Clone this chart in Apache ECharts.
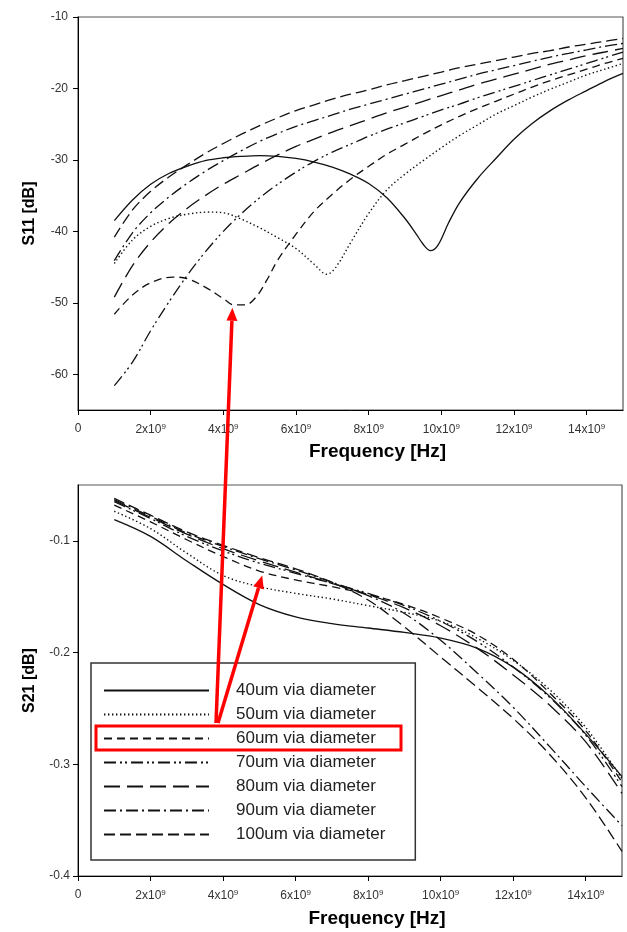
<!DOCTYPE html>
<html>
<head>
<meta charset="utf-8">
<script src="https://cdn.jsdelivr.net/npm/echarts@6/dist/echarts.min.js"></script>
<style>
  body { margin: 0; background: #fff; }
  #chart { width: 627px; height: 932px; }
</style>
</head>
<body>
<div id="chart"></div>
<script>
// frequencies in GHz (plotted as Hz)
var s11Freq = [1, 1.5, 2, 2.5, 3, 3.5, 4, 4.5, 5, 5.5, 6, 6.5, 7, 7.5, 8, 8.5, 9, 9.5, 10, 10.5, 11, 11.5, 12, 12.5, 13, 13.5, 14, 14.5, 15];
var s11Freq40 = [1, 1.5, 2, 2.5, 3, 3.5, 4, 4.5, 5, 5.5, 6, 6.5, 7, 7.5, 8, 8.5, 9, 9.3, 9.5, 9.7, 9.9, 10.2, 10.5, 11, 11.5, 12, 12.5, 13, 13.5, 14, 14.5, 15];
var s11Freq50 = [1, 1.5, 2, 2.5, 3, 3.6, 4, 4.5, 5, 5.5, 6, 6.5, 6.85, 7.1, 7.5, 8, 8.5, 9, 9.5, 10, 10.5, 11, 11.5, 12, 12.5, 13, 13.5, 14, 14.5, 15];
var s11Freq60 = [1, 1.5, 2, 2.6, 3, 3.5, 4, 4.3, 4.6, 4.9, 5.2, 5.5, 6, 6.5, 7, 7.5, 8, 8.5, 9, 9.5, 10, 10.5, 11, 11.5, 12, 12.5, 13, 13.5, 14, 14.5, 15];

var s11Via40 = [-38.5, -35.6, -33.4, -31.9, -30.9, -30.1, -29.7, -29.5, -29.4, -29.5, -29.8, -30.3, -31.0, -32.0, -33.3, -35.3, -38.2, -40.3, -41.8, -42.7, -42.0, -38.8, -36.0, -32.6, -29.8, -27.1, -24.9, -23.1, -21.6, -20.3, -19.0, -17.9];
var s11Via50 = [-44.5, -41.2, -39.3, -38.2, -37.6, -37.3, -37.4, -38.3, -39.5, -40.9, -42.4, -44.6, -46.0, -45.0, -41.6, -37.5, -34.2, -32.0, -30.1, -28.3, -26.6, -25.1, -23.6, -22.4, -21.2, -20.1, -19.1, -18.1, -17.3, -16.5];
var s11Via60 = [-51.6, -48.9, -47.2, -46.4, -46.6, -47.8, -49.4, -50.3, -50.3, -49.2, -46.8, -44.0, -40.4, -37.2, -34.8, -32.7, -30.9, -29.2, -27.8, -26.4, -25.1, -23.9, -22.8, -21.8, -20.8, -19.8, -18.9, -18.1, -17.3, -16.5, -15.8];
var s11Via70 = [-61.6, -58.3, -53.9, -49.9, -46.2, -42.9, -40.0, -37.5, -35.3, -33.4, -31.7, -30.2, -28.9, -27.8, -26.7, -25.7, -24.8, -23.9, -23.0, -22.2, -21.3, -20.5, -19.7, -18.9, -18.1, -17.3, -16.5, -15.7, -14.9];
var s11Via80 = [-49.2, -44.8, -41.5, -38.9, -36.8, -35.0, -33.4, -32.0, -30.6, -29.3, -28.1, -27.1, -26.1, -25.2, -24.3, -23.4, -22.6, -21.8, -21.0, -20.2, -19.4, -18.7, -18.0, -17.3, -16.6, -16.0, -15.4, -14.9, -14.4];
var s11Via90 = [-44.1, -40.2, -37.4, -35.2, -33.3, -31.6, -30.1, -28.7, -27.4, -26.3, -25.3, -24.5, -23.7, -22.9, -22.2, -21.5, -20.8, -20.1, -19.4, -18.7, -18.0, -17.4, -16.8, -16.2, -15.6, -15.1, -14.6, -14.1, -13.7];
var s11Via100 = [-40.8, -37.0, -34.4, -32.4, -30.7, -29.1, -27.7, -26.4, -25.2, -24.1, -23.1, -22.3, -21.5, -20.8, -20.2, -19.5, -18.9, -18.3, -17.7, -17.1, -16.6, -16.1, -15.6, -15.1, -14.7, -14.2, -13.8, -13.4, -13.0];

var s21Freq = [1, 2, 3, 4, 5, 6, 7, 8, 9, 10, 11, 12, 13, 14, 15];
var s21Via40 = [-0.081, -0.096, -0.118, -0.139, -0.157, -0.168, -0.174, -0.178, -0.182, -0.187, -0.196, -0.213, -0.239, -0.273, -0.311];
var s21Via50 = [-0.0735, -0.089, -0.111, -0.131, -0.141, -0.147, -0.152, -0.158, -0.164, -0.172, -0.187, -0.207, -0.233, -0.267, -0.313];
var s21Via60 = [-0.068, -0.083, -0.099, -0.114, -0.127, -0.135, -0.141, -0.148, -0.157, -0.169, -0.184, -0.206, -0.236, -0.27, -0.316];
var s21Via70 = [-0.065, -0.08, -0.096, -0.109, -0.12, -0.129, -0.138, -0.147, -0.158, -0.172, -0.19, -0.213, -0.24, -0.274, -0.32];
var s21Via80 = [-0.064, -0.079, -0.094, -0.107, -0.118, -0.128, -0.138, -0.148, -0.16, -0.176, -0.196, -0.22, -0.247, -0.28, -0.326];
var s21Via90 = [-0.063, -0.078, -0.093, -0.105, -0.116, -0.126, -0.137, -0.149, -0.165, -0.189, -0.218, -0.249, -0.284, -0.32, -0.355];
var s21Via100 = [-0.062, -0.077, -0.092, -0.104, -0.115, -0.125, -0.137, -0.153, -0.177, -0.204, -0.231, -0.259, -0.291, -0.33, -0.378];

var seriesNames = ["40um via diameter", "50um via diameter", "60um via diameter", "70um via diameter", "80um via diameter", "90um via diameter", "100um via diameter"];
var freqTicks = [0, 2, 4, 6, 8, 10, 12, 14];
var s11Ticks = [-60, -50, -40, -30, -20, -10];
var s21Ticks = [-0.4, -0.3, -0.2, -0.1];

// line dash per diameter
var dashes = ["solid", [1.4, 2.6], [8, 5], [12, 4, 2, 3, 2, 4], [16, 7], [12, 4, 2, 4], [11, 5]];

var font = "Liberation Sans, Arial, sans-serif";
var chart = echarts.init(document.getElementById("chart"));

function pairs(f, v) {
  return f.map(function(x, i) { return [x * 1e9, v[i]]; });
}

function freqLabel(v) {
  if (v === 0) return "0";
  return "{b|" + Math.round(v / 1e9) + "x10}{s|9}";
}

function makeLine(i, xi, f, v) {
  return {
    name: seriesNames[i],
    type: "line",
    xAxisIndex: xi,
    yAxisIndex: xi,
    data: pairs(f, v),
    smooth: 0.35,
    symbol: "none",
    silent: true,
    color: "#111",
    lineStyle: { color: "#111", width: i === 1 ? 1.4 : 1.3, type: dashes[i] }
  };
}

var s11Data = [
  [s11Freq40, s11Via40], [s11Freq50, s11Via50], [s11Freq60, s11Via60],
  [s11Freq, s11Via70], [s11Freq, s11Via80], [s11Freq, s11Via90], [s11Freq, s11Via100]
];
var s21Data = [s21Via40, s21Via50, s21Via60, s21Via70, s21Via80, s21Via90, s21Via100];

var series = [];
s11Data.forEach(function(d, i) { series.push(makeLine(i, 0, d[0], d[1])); });
s21Data.forEach(function(d, i) { series.push(makeLine(i, 1, s21Freq, d)); });

function xAxisOf(gi) {
  return {
    type: "value",
    gridIndex: gi,
    min: 0,
    max: 15e9,
    name: "Frequency [Hz]",
    nameLocation: "middle",
    nameGap: gi === 0 ? 32 : 33,
    nameTextStyle: { fontFamily: font, fontSize: 19, fontWeight: "bold", color: "#000", padding: [0, 0, 0, 54] },
    axisLine: { lineStyle: { color: "#000", width: 1 } },
    axisTick: { length: 5, lineStyle: { color: "#000" }, customValues: freqTicks.map(function(t) { return t * 1e9; }) },
    axisLabel: {
      margin: 13,
      color: "#333",
      fontFamily: font,
      fontSize: 12,
      customValues: freqTicks.map(function(t) { return t * 1e9; }),
      formatter: freqLabel,
      rich: {
        b: { fontFamily: font, fontSize: 12, color: "#333", lineHeight: 14 },
        s: { fontFamily: font, fontSize: 8, color: "#333", verticalAlign: "top", lineHeight: 9 }
      }
    },
    splitLine: { show: false }
  };
}

var option = {
  backgroundColor: "#fff",
  animation: false,
  grid: [
    { left: 78, right: 4, top: 17, bottom: 522, show: true, borderColor: "#555", borderWidth: 1.2 },
    { left: 78, right: 5, top: 485, bottom: 56, show: true, borderColor: "#555", borderWidth: 1.2 }
  ],
  legend: {
    orient: "vertical",
    left: 91,
    top: 663,
    padding: [19, 30, 17, 12],
    itemWidth: 105,
    itemHeight: 14,
    itemGap: 7,
    borderColor: "#333",
    borderWidth: 1.5,
    selectedMode: false,
    itemStyle: { color: "rgba(0,0,0,0)", borderWidth: 0, opacity: 0 },
    textStyle: { fontFamily: font, fontSize: 17, lineHeight: 16, color: "#222", padding: [0, 0, 0, 22] },
    data: seriesNames
  },
  xAxis: [xAxisOf(0), xAxisOf(1)],
  yAxis: [
    {
      type: "value",
      gridIndex: 0,
      min: -65,
      max: -10,
      name: "S11 [dB]",
      nameLocation: "middle",
      nameGap: 40,
      nameTextStyle: { fontFamily: font, fontSize: 16, fontWeight: "bold", color: "#000" },
      axisLine: { show: true, lineStyle: { color: "#000" } },
      axisTick: { show: true, length: 5, lineStyle: { color: "#000" }, customValues: s11Ticks },
      axisLabel: { margin: 10, color: "#333", fontFamily: font, fontSize: 12, customValues: s11Ticks },
      splitLine: { show: false }
    },
    {
      type: "value",
      gridIndex: 1,
      min: -0.4,
      max: -0.05,
      name: "S21 [dB]",
      nameLocation: "middle",
      nameGap: 40,
      nameTextStyle: { fontFamily: font, fontSize: 16, fontWeight: "bold", color: "#000" },
      axisLine: { show: true, lineStyle: { color: "#000" } },
      axisTick: { show: true, length: 5, lineStyle: { color: "#000" }, customValues: s21Ticks },
      axisLabel: { margin: 8, color: "#333", fontFamily: font, fontSize: 12, customValues: s21Ticks },
      splitLine: { show: false }
    }
  ],
  series: series
};

chart.setOption(option);

// red annotation: box round the 60um legend entry and two arrows
function arrow(from, to) {
  var dx = to[0] - from[0], dy = to[1] - from[1];
  var len = Math.sqrt(dx * dx + dy * dy);
  var ux = dx / len, uy = dy / len;
  var head = 13, hw = 5.5;
  var base = [to[0] - ux * head, to[1] - uy * head];
  return [
    { type: "line", z: 100, shape: { x1: from[0], y1: from[1], x2: base[0], y2: base[1] }, style: { stroke: "#ff0000", lineWidth: 3.5 } },
    { type: "polygon", z: 100, shape: { points: [to, [base[0] - uy * hw, base[1] + ux * hw], [base[0] + uy * hw, base[1] - ux * hw]] }, style: { fill: "#ff0000" } }
  ];
}

var tipS11 = chart.convertToPixel({ gridIndex: 0 }, [4.25e9, -50.7]);
var tipS21 = chart.convertToPixel({ gridIndex: 1 }, [5.08e9, -0.131]);
var graphics = [
  { type: "rect", z: 100, shape: { x: 96, y: 726, width: 305, height: 24 }, style: { stroke: "#ff0000", lineWidth: 3, fill: null } }
].concat(arrow([216, 723], tipS11), arrow([218, 723], tipS21));

chart.setOption({ graphic: graphics });
</script>
</body>
</html>
